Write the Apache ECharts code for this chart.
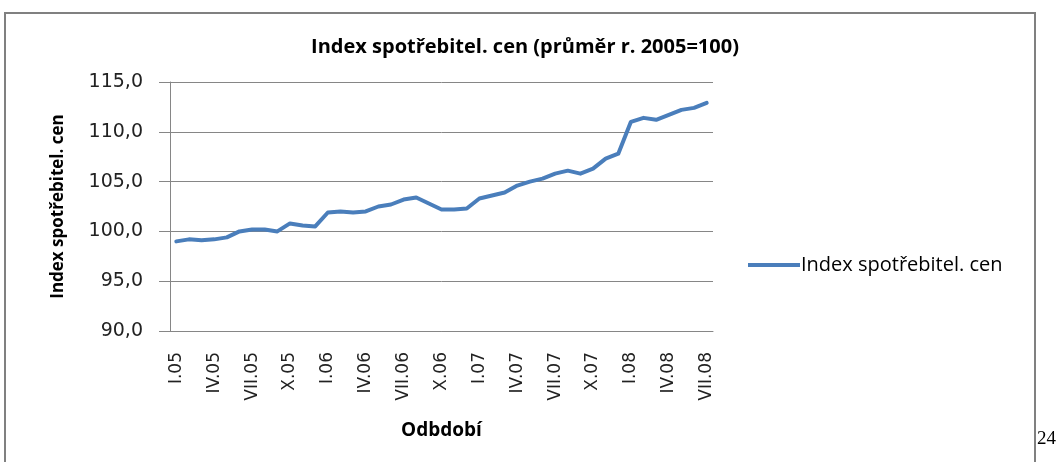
<!DOCTYPE html>
<html>
<head>
<meta charset="utf-8">
<script src="https://cdn.jsdelivr.net/npm/echarts@6/dist/echarts.min.js"></script>
<style>
  html, body { margin: 0; padding: 0; background: #fff; }
  #container { width: 1059px; height: 462px; }
</style>
</head>
<body>
<div id="container"></div>
<script>
// období: měsíce I.05 .. VII.08
var months = ['I', 'II', 'III', 'IV', 'V', 'VI', 'VII', 'VIII', 'IX', 'X', 'XI', 'XII'];
var years = ['05', '06', '07', '08'];
var periods = [];
for (var y = 0; y < years.length; y++) {
    for (var m = 0; m < 12; m++) {
        if (y === 3 && m > 6) break;
        periods.push(months[m] + '.' + years[y]);
    }
}

// index spotřebitelských cen (průměr r. 2005 = 100)
var cpiValues = [
    99.0, 99.2, 99.1, 99.2, 99.4, 100.0, 100.2, 100.2, 100.0, 100.8, 100.6, 100.5,
    101.9, 102.0, 101.9, 102.0, 102.5, 102.7, 103.2, 103.4, 102.8, 102.2, 102.2, 102.3,
    103.3, 103.6, 103.9, 104.6, 105.0, 105.3, 105.8, 106.1, 105.8, 106.3, 107.3, 107.8,
    111.0, 111.4, 111.2, 111.7, 112.2, 112.4, 112.9
];

var yTicks = { min: 90, max: 115, step: 5 };

var seriesName = 'Index spotřebitel. cen';
var titleText = 'Index spotřebitel. cen (průměr r. 2005=100)';

var dom = document.getElementById('container');
var myChart = echarts.init(dom);

var option = {
    backgroundColor: '#fff',
    animation: false,
    title: {
        text: titleText,
        left: 520,
        top: 32,
        textAlign: 'center',
        textStyle: {
            fontFamily: 'Open Sans',
            fontSize: 20,
            fontWeight: 'bold',
            color: '#000'
        }
    },
    legend: {
        left: 743,
        top: 250,
        icon: 'rect',
        itemWidth: 52,
        itemHeight: 4,
        itemGap: 2,
        data: [seriesName],
        textStyle: {
            fontFamily: 'Open Sans',
            fontSize: 20,
            color: '#000',
            padding: [0, 0, 0, -4]
        }
    },
    grid: {
        left: 170,
        right: 346,
        top: 82,
        bottom: 131
    },
    xAxis: {
        type: 'category',
        data: periods,
        boundaryGap: true,
        name: 'Odbdobí',
        nameLocation: 'middle',
        nameGap: 90,
        nameTextStyle: {
            fontFamily: 'Open Sans',
            fontSize: 19,
            fontWeight: 'bold',
            color: '#000'
        },
        axisLine: { lineStyle: { color: '#868686', width: 1 } },
        axisTick: { interval: 2, length: 6, lineStyle: { color: '#868686' } },
        axisLabel: {
            interval: 2,
            rotate: 90,
            margin: 21,
            fontFamily: 'DejaVu Sans',
            fontSize: 17,
            color: '#222'
        },
        splitLine: { show: false }
    },
    yAxis: {
        type: 'value',
        min: yTicks.min,
        max: yTicks.max,
        interval: yTicks.step,
        name: seriesName,
        nameLocation: 'middle',
        nameGap: 103,
        nameTextStyle: {
            fontFamily: 'Open Sans',
            fontSize: 17,
            fontWeight: 'bold',
            color: '#000'
        },
        axisLine: { show: true, lineStyle: { color: '#868686', width: 1 } },
        axisTick: { show: true, length: 11, lineStyle: { color: '#868686' } },
        axisLabel: {
            margin: 27,
            fontFamily: 'DejaVu Sans',
            fontSize: 19,
            color: '#222',
            formatter: function (v) {
                return v.toFixed(1).replace('.', ',');
            }
        },
        splitLine: { show: true, lineStyle: { color: '#868686', width: 1 } }
    },
    series: [{
        name: seriesName,
        type: 'line',
        data: cpiValues,
        symbol: 'none',
        smooth: false,
        lineStyle: { color: '#4A7EBB', width: 4, cap: 'round', join: 'round' },
        itemStyle: { color: '#4A7EBB' }
    }],
    graphic: [
        {
            type: 'rect',
            shape: { x: 5, y: 13, width: 1030, height: 470 },
            style: { fill: 'none', stroke: '#808080', lineWidth: 2 },
            silent: true
        },
        {
            type: 'text',
            left: 1037,
            top: 430,
            style: {
                text: '24',
                fontFamily: 'Liberation Serif',
                fontSize: 19,
                fill: '#000'
            }
        }
    ]
};

if (option && typeof option === 'object') {
    myChart.setOption(option, true);
}
</script>
</body>
</html>
